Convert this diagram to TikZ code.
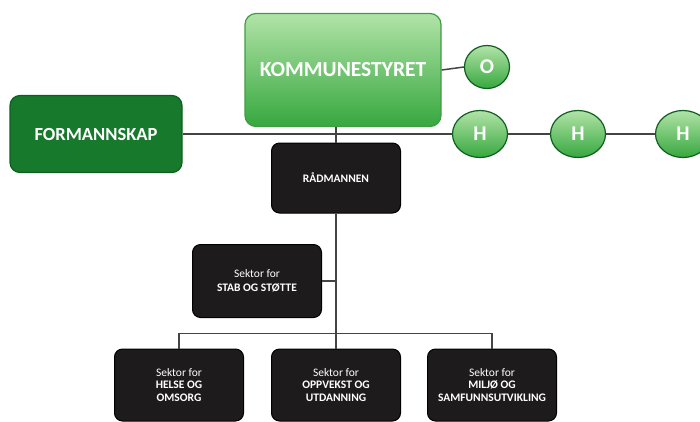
\documentclass[tikz,border=0pt]{standalone}
\usepackage{fontspec}
\setmainfont{Carlito}
\usetikzlibrary{shapes.geometric}

\definecolor{kgreentop}{HTML}{B2E3A8}
\definecolor{kgreenbot}{HTML}{36A83E}
\definecolor{kgreenline}{HTML}{3F9C45}
\definecolor{fgreen}{HTML}{17792C}
\definecolor{fgreenline}{HTML}{0F5F20}
\definecolor{sboxfill}{HTML}{1E1B1C}
\definecolor{linkgray}{HTML}{444444}

\begin{document}
\begin{tikzpicture}[x=1pt, y=-1pt, line width=1.5pt,
    kbox/.style={draw=kgreenline, line width=1.2pt, rounded corners=11pt, top color=kgreentop, bottom color=kgreenbot, text=white, font=\bfseries\fontsize{21.5}{23}\selectfont, minimum width=196, minimum height=113},
    fbox/.style={draw=fgreenline, line width=1.2pt, rounded corners=10pt, fill=fgreen, text=white, font=\bfseries\fontsize{18.5}{20}\selectfont, minimum width=172, minimum height=77},
    ball/.style={ellipse, draw=fgreenline, line width=1.2pt, top color=kgreentop, bottom color=kgreenbot, text=white, font=\bfseries\fontsize{21}{23}\selectfont, inner sep=0pt},
    sbox/.style={draw=black, line width=1pt, rounded corners=8pt, fill=sboxfill, text=white, align=center, font=\fontsize{11.5}{12.5}\selectfont, minimum width=129, minimum height=72},
    link/.style={draw=linkgray}]
    \useasboundingbox (0,0) rectangle (700,421);

    % top level
    \node[kbox] (kommunestyret) at (343,70) {KOMMUNESTYRET};
    \node[fbox] (formannskap) at (96,134) {FORMANNSKAP};
    \node[ball, minimum width=45, minimum height=43] (o) at (487,67) {O};
    \node[ball, minimum width=55, minimum height=47] (h1) at (480,134) {H};
    \node[ball, minimum width=55, minimum height=47] (h2) at (578,134) {H};
    \node[ball, minimum width=55, minimum height=47] (h3) at (683,134) {H};

    % administration
    \node[sbox, minimum height=70] (radmannen) at (336,178) {\textbf{RÅDMANNEN}};
    \node[sbox, minimum height=73] (stab) at (257,281) {Sektor for\\[2pt]\textbf{STAB OG STØTTE}};
    \node[sbox] (helse) at (179,385) {Sektor for\\\textbf{HELSE OG}\\\textbf{OMSORG}};
    \node[sbox] (oppvekst) at (336,385) {Sektor for\\\textbf{OPPVEKST OG}\\\textbf{UTDANNING}};
    \node[sbox] (miljo) at (492,385) {Sektor for\\\textbf{MILJØ OG}\\\textbf{SAMFUNNSUTVIKLING}};

    % connectors
    \draw[link] (formannskap.east) -- (h1.west);
    \draw[link] (h1) -- (h2);
    \draw[link] (h2) -- (h3);
    \draw[link] (kommunestyret.east) -- (o.west);
    \draw[link] (radmannen.north) -- (radmannen.north |- kommunestyret.south);
    \draw[link] (radmannen.south) -- (oppvekst.north);
    \draw[link] (stab.east) -- (stab.east -| radmannen.south);
    \draw[link] (helse.north) -- ++(0,-15) -| (miljo.north);
\end{tikzpicture}
\end{document}
